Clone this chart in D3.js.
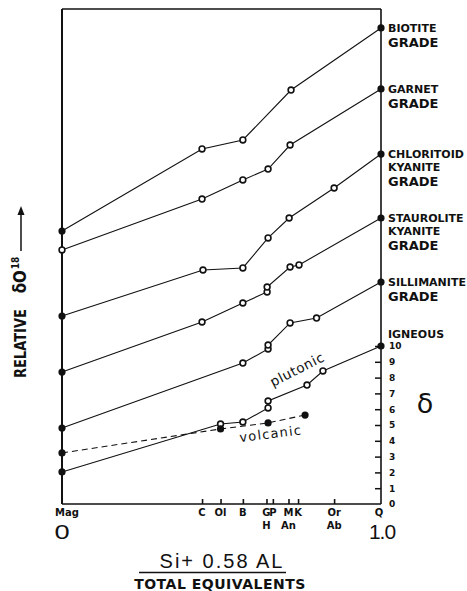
<!DOCTYPE html>
<html><head><meta charset="utf-8">
<script src="https://cdn.jsdelivr.net/npm/d3@7"></script>
<style>body{margin:0;background:#fff}svg{display:block}</style>
</head><body><svg id="c" width="467" height="591"></svg>
<script>
// ---- data ----
const tickMinerals = ["Mag","C","Ol","B","G","P","M","K","Or","Q"];
const tickValues   = [0, 0.439, 0.497, 0.567, 0.641, 0.661, 0.710, 0.740, 0.853, 1.0];
const lowerMinerals = ["H","An","Ab"];
const lowerValues   = [0.641, 0.710, 0.853];
const deltaTicks = [0,1,2,3,4,5,6,7,8,9,10];

const biotiteX = [0, 0.439, 0.567, 0.718, 1];
const biotiteY = [17.28, 22.47, 23.04, 26.2, 30.13];
const garnetX = [0, 0.439, 0.567, 0.646, 0.715, 1];
const garnetY = [16.08, 19.30, 20.51, 21.2, 22.72, 26.27];
const chloritoidX = [0, 0.442, 0.567, 0.646, 0.712, 0.853, 1];
const chloritoidY = [11.9, 14.81, 14.94, 16.84, 18.1, 20.0, 22.15];
const stauroliteX = [0, 0.439, 0.567, 0.643, 0.643, 0.715, 0.743, 1];
const stauroliteY = [8.35, 11.52, 12.72, 13.42, 13.73, 15.0, 15.13, 18.1];
const sillimaniteX = [0, 0.567, 0.646, 0.646, 0.715, 0.798, 1];
const sillimaniteY = [4.81, 8.92, 9.81, 10.06, 11.46, 11.77, 14.05];
const plutonicX = [0, 0.497, 0.567, 0.646, 0.646, 0.768, 0.818, 1];
const plutonicY = [2.03, 5.06, 5.19, 6.08, 6.52, 7.53, 8.42, 10];
const volcanicX = [0, 0.497, 0.646, 0.762];
const volcanicY = [3.23, 4.75, 5.13, 5.63];

const gradeLabels = [
  ["BIOTITE","GRADE"],
  ["GARNET","GRADE"],
  ["CHLORITOID","KYANITE","GRADE"],
  ["STAUROLITE","KYANITE","GRADE"],
  ["SILLIMANITE","GRADE"],
  ["IGNEOUS"]
];

// ---- layout ----
const W = 467, H = 591;
const L = 62, R = 381, T = 9, B = 504;
const x = d3.scaleLinear().domain([0,1]).range([L,R]);
const y = d3.scaleLinear().domain([0,10]).range([B,346]);

const series = [
  {xs:biotiteX, ys:biotiteY, dash:false, openStart:false, allFilled:false},
  {xs:garnetX, ys:garnetY, dash:false, openStart:true, allFilled:false},
  {xs:chloritoidX, ys:chloritoidY, dash:false, openStart:false, allFilled:false},
  {xs:stauroliteX, ys:stauroliteY, dash:false, openStart:false, allFilled:false},
  {xs:sillimaniteX, ys:sillimaniteY, dash:false, openStart:false, allFilled:false},
  {xs:plutonicX, ys:plutonicY, dash:false, openStart:false, allFilled:false},
  {xs:volcanicX, ys:volcanicY, dash:true, openStart:false, allFilled:true}
];

const svg = d3.select("#c");
svg.append("rect").attr("width",W).attr("height",H).attr("fill","#fff");

const boldFont = "'DejaVu Sans', sans-serif";

// frame
svg.append("line").attr("x1",L).attr("x2",R).attr("y1",T).attr("y2",T).attr("stroke","#111").attr("stroke-width",1.5);
svg.append("line").attr("x1",L).attr("x2",L).attr("y1",T).attr("y2",B).attr("stroke","#111").attr("stroke-width",2);

// bottom axis
const xAxis = d3.axisBottom(x).tickValues(tickValues.slice(1,-1)).tickSize(-5).tickSizeOuter(0).tickFormat("");
const gx = svg.append("g").attr("transform",`translate(0,${B})`).call(xAxis);
gx.select(".domain").attr("stroke","#111").attr("stroke-width",1.6).attr("d",`M${L},0H${R}`);
gx.selectAll(".tick line").attr("stroke","#111").attr("stroke-width",1.6);

// right axis
const yAxis = d3.axisRight(y).tickValues(deltaTicks).tickSize(-6).tickSizeOuter(0).tickPadding(8).tickFormat(d3.format("d"));
const gy = svg.append("g").attr("transform",`translate(${R},0)`).call(yAxis);
gy.select(".domain").attr("stroke","#111").attr("stroke-width",1.6).attr("d",`M0,${B}V${T}`);
gy.selectAll(".tick line").attr("stroke","#111").attr("stroke-width",1.5).attr("opacity",(d)=>d===0?0:1);
gy.selectAll(".tick text").attr("font-family",boldFont).attr("font-weight","bold").attr("font-size",9).attr("fill","#111");

// x tick labels
svg.append("g").selectAll("text").data(tickMinerals).join("text")
  .attr("x",(d,i)=>x(tickValues[i]) + (d==="Mag"?5:(d==="Q"?-2:0)))
  .attr("y",516).attr("text-anchor","middle")
  .attr("font-family",boldFont).attr("font-weight","bold").attr("font-size",10).attr("fill","#111")
  .text(d=>d);
svg.append("g").selectAll("text").data(lowerMinerals).join("text")
  .attr("x",(d,i)=>x(lowerValues[i])).attr("y",529).attr("text-anchor","middle")
  .attr("font-family",boldFont).attr("font-weight","bold").attr("font-size",10).attr("fill","#111")
  .text(d=>d);

// big 0 and 1.0
svg.append("text").attr("x",x(0)).attr("y",539).attr("text-anchor","middle")
  .attr("font-family","'Liberation Sans', sans-serif").attr("font-size",21).attr("fill","#111")
  .attr("transform",`translate(${x(0)},0) scale(1.3,1) translate(${-x(0)},0)`).text("0");
svg.append("text").attr("x",x(1)+1).attr("y",539).attr("text-anchor","middle")
  .attr("font-family","'Liberation Sans', sans-serif").attr("font-size",21).attr("fill","#111")
  .attr("letter-spacing",-1).text("1.0");

// lines
const line = d3.line().x(d=>x(d[0])).y(d=>y(d[1]));
series.forEach(s=>{
  const pts = s.xs.map((v,i)=>[v,s.ys[i]]);
  svg.append("path").datum(pts).attr("d",line).attr("fill","none")
    .attr("stroke","#111").attr("stroke-width",1.1)
    .attr("stroke-dasharray",s.dash?"6,4":null);
  svg.append("g").selectAll("circle").data(pts).join("circle")
    .attr("cx",d=>x(d[0])).attr("cy",d=>y(d[1]))
    .each(function(d,i){
      const last = pts.length-1;
      const filled = s.allFilled || i===last || (i===0 && !s.openStart);
      d3.select(this).attr("r",filled?3.6:2.9)
        .attr("fill",filled?"#111":"#fff")
        .attr("stroke","#111").attr("stroke-width",filled?0:1.6);
    });
});

// grade labels
const ends = series.slice(0,6).map(s=>s.ys[s.ys.length-1]);
gradeLabels.forEach((lines,k)=>{
  const yEnd = y(ends[k]);
  let base = k===5 ? yEnd-8 : yEnd+4;
  const t = svg.append("text").attr("font-family",boldFont).attr("font-weight","bold").attr("fill","#111");
  lines.forEach((ln,j)=>{
    const isGrade = ln==="GRADE";
    if(j>0) base += isGrade?15:12.5;
    t.append("tspan").attr("x",388).attr("y",base).attr("font-size",isGrade?13:11).text(ln);
  });
});

// big delta symbol
svg.append("text").attr("x",425).attr("y",413).attr("text-anchor","middle")
  .attr("font-family","'DejaVu Sans', sans-serif").attr("font-size",27).attr("fill","#111").text("δ");

// series annotations
svg.append("text").attr("transform","translate(273,387) rotate(-27)")
  .attr("font-family","'DejaVu Sans', sans-serif").attr("font-size",13.5).attr("fill","#111")
  .attr("letter-spacing",0.6).text("plutonic");
svg.append("text").attr("transform","translate(240,442) rotate(-7)")
  .attr("font-family","'DejaVu Sans', sans-serif").attr("font-size",13).attr("fill","#111")
  .attr("letter-spacing",1.2).text("volcanic");

// y axis label
const yl = svg.append("text").attr("transform","translate(26,378) rotate(-90) scale(1,1.2)")
  .attr("font-family",boldFont).attr("font-weight","bold").attr("font-size",13).attr("fill","#111");
yl.append("tspan").text("RELATIVE");
yl.append("tspan").attr("dx",16).attr("font-size",15).text("δO");
yl.append("tspan").attr("dx",1).attr("dy",-6).attr("font-size",9).text("18");
svg.append("line").attr("x1",21).attr("x2",21).attr("y1",251).attr("y2",212).attr("stroke","#111").attr("stroke-width",1.5);
svg.append("path").attr("d","M21,206 L17.5,215 L24.5,215 Z").attr("fill","#111");

// x title
svg.append("text").attr("x",222).attr("y",568).attr("text-anchor","middle")
  .attr("font-family","'Liberation Sans', sans-serif").attr("font-size",20).attr("letter-spacing",2).attr("fill","#111")
  .text("Si+ 0.58 AL");
svg.append("line").attr("x1",139).attr("x2",286).attr("y1",572.5).attr("y2",572.5).attr("stroke","#111").attr("stroke-width",1.5);
svg.append("text").attr("x",220).attr("y",589).attr("text-anchor","middle")
  .attr("font-family",boldFont).attr("font-weight","bold").attr("font-size",14).attr("letter-spacing",0.5).attr("fill","#111")
  .text("TOTAL EQUIVALENTS");
</script>
</body></html>
